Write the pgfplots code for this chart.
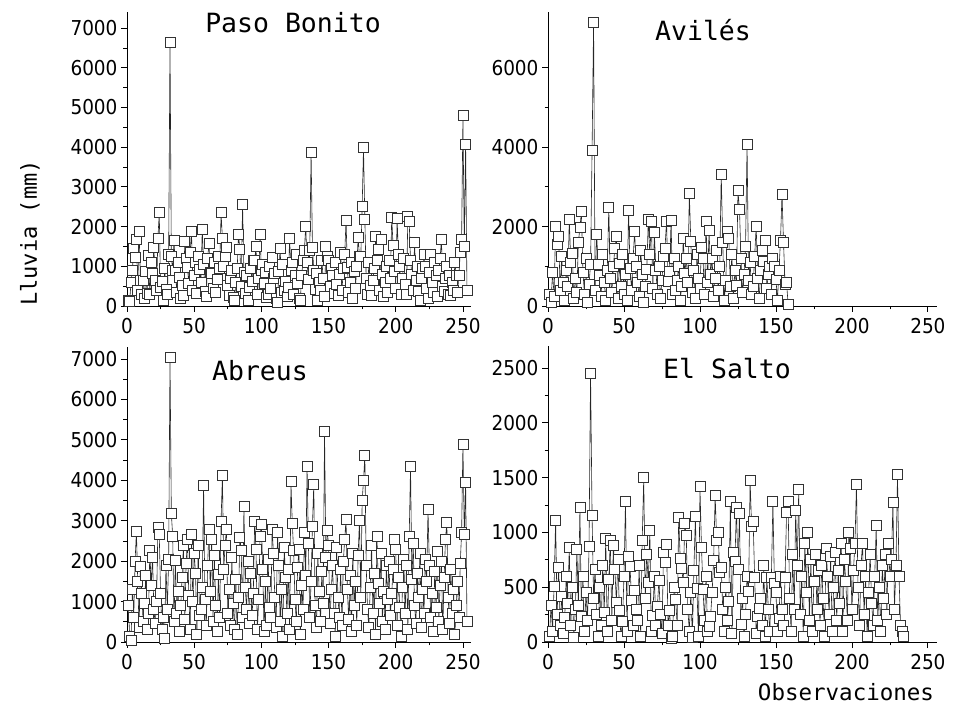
\documentclass[border=0pt]{standalone}
\usepackage{pgfplots}
\pgfplotsset{compat=1.18}
\usepackage{pgfplotstable}
\usepackage{fontspec}
\newfontfamily\tickfont{DejaVu Sans Condensed}
\newfontfamily\monofont{DejaVu Sans Mono}

\pgfplotstableread[row sep=\\]{y\\150\\120\\600\\900\\1450\\1225\\1680\\400\\1890\\650\\300\\640\\200\\880\\320\\1285\\290\\1100\\820\\1480\\640\\385\\1705\\2350\\480\\610\\150\\950\\420\\290\\1300\\6650\\1240\\890\\1660\\905\\350\\1100\\720\\180\\520\\265\\1620\\1200\\980\\560\\1350\\1890\\400\\760\\1100\\315\\1260\\925\\600\\1940\\1050\\380\\240\\1200\\1580\\850\\825\\450\\1100\\330\\680\\1250\\940\\2350\\1705\\1008\\1260\\1480\\520\\260\\700\\900\\205\\150\\600\\940\\1800\\1430\\500\\2550\\850\\320\\770\\150\\480\\940\\620\\1150\\1140\\1510\\280\\700\\1800\\900\\1060\\560\\855\\210\\295\\1000\\450\\1225\\700\\810\\180\\95\\870\\1450\\350\\1050\\400\\620\\230\\480\\1700\\900\\1100\\300\\780\\1300\\560\\200\\150\\770\\1150\\1400\\2015\\1100\\660\\1400\\3860\\1480\\900\\430\\810\\130\\600\\390\\1150\\700\\250\\1495\\1260\\1140\\500\\940\\760\\320\\1100\\550\\255\\800\\1350\\400\\940\\1290\\2160\\975\\350\\600\\1100\\200\\865\\450\\1000\\1730\\1240\\1260\\2500\\3990\\2185\\700\\300\\1100\\520\\275\\655\\950\\1745\\1140\\1430\\400\\1680\\800\\250\\600\\1000\\330\\1150\\700\\2225\\1535\\865\\450\\2200\\1310\\1000\\300\\700\\1200\\550\\280\\2265\\2125\\1140\\800\\400\\1605\\640\\1000\\360\\150\\700\\950\\1300\\990\\450\\200\\850\\1300\\600\\330\\1100\\780\\250\\900\\1200\\1680\\500\\380\\700\\1000\\300\\780\\275\\600\\400\\1100\\780\\350\\780\\1360\\1670\\4790\\1500\\4070\\400\\}\pb

\pgfplotstableread[row sep=\\]{y\\300\\100\\850\\250\\2015\\1540\\1760\\400\\1260\\600\\150\\900\\500\\2180\\1100\\1330\\200\\700\\350\\1600\\1980\\2380\\850\\300\\1200\\100\\550\\1050\\3910\\7150\\400\\1810\\1060\\780\\250\\1300\\600\\150\\900\\2480\\700\\350\\990\\1450\\1750\\200\\1075\\500\\1300\\300\\800\\150\\2420\\950\\400\\1200\\1870\\990\\600\\250\\1400\\800\\100\\500\\920\\2180\\1300\\2120\\450\\1850\\900\\300\\1000\\200\\650\\1250\\1460\\2140\\610\\880\\2150\\300\\1190\\400\\655\\1000\\150\\500\\1690\\830\\1190\\600\\2840\\1630\\350\\900\\200\\1300\\700\\450\\1480\\1190\\300\\2140\\600\\1900\\805\\1190\\250\\700\\1400\\400\\1000\\3325\\1600\\150\\650\\1880\\1705\\500\\1300\\200\\900\\530\\2900\\2440\\1190\\350\\800\\1510\\4080\\655\\1100\\300\\490\\1250\\2015\\700\\200\\900\\1400\\1115\\1660\\450\\800\\990\\300\\1200\\990\\680\\150\\900\\1660\\2820\\1595\\555\\590\\50\\}\av

\pgfplotstableread[row sep=\\]{y\\900\\150\\40\\1300\\600\\1990\\2730\\1500\\350\\1880\\1200\\500\\950\\1650\\300\\700\\2260\\1400\\2100\\800\\450\\1000\\2840\\2650\\1200\\300\\600\\100\\1900\\800\\2050\\7050\\3180\\2620\\500\\2030\\700\\1250\\250\\900\\1600\\2400\\550\\1950\\2550\\1150\\300\\2670\\1000\\2200\\1700\\200\\2400\\650\\800\\1350\\3870\\1050\\400\\1900\\2790\\1250\\2550\\500\\2150\\900\\250\\1660\\600\\2995\\4130\\1800\\2400\\2790\\700\\1300\\400\\2100\\950\\300\\1550\\200\\1100\\2590\\2260\\600\\3350\\1350\\800\\2000\\450\\1700\\650\\1200\\2980\\2300\\300\\1050\\2600\\2910\\1800\\250\\1500\\400\\2050\\850\\600\\2790\\2200\\1100\\350\\2715\\1900\\500\\1300\\150\\2350\\1600\\700\\1800\\300\\3970\\2930\\2260\\1050\\500\\1850\\2300\\200\\1400\\800\\2700\\1650\\4340\\2450\\600\\1500\\2870\\3910\\900\\350\\2200\\1250\\500\\1750\\950\\5200\\2100\\2750\\2400\\450\\1300\\1900\\700\\150\\2350\\1100\\600\\1800\\400\\2000\\2540\\3040\\1300\\550\\1650\\250\\2200\\900\\1500\\400\\2150\\3010\\1100\\3500\\3990\\4610\\1900\\800\\350\\1350\\2400\\700\\1700\\200\\2610\\1450\\950\\2200\\500\\1250\\300\\1900\\1050\\2000\\650\\1200\\1800\\2550\\2300\\400\\1600\\850\\150\\1350\\2050\\700\\1900\\300\\2600\\4340\\1550\\2440\\900\\450\\1700\\1100\\2200\\350\\1300\\700\\2050\\1500\\3280\\1900\\600\\1200\\250\\1750\\850\\2250\\500\\1400\\2000\\300\\1600\\2540\\2950\\1100\\450\\1800\\700\\1300\\200\\900\\1500\\600\\1950\\2700\\4900\\2650\\3940\\500\\}\ab

\pgfplotstableread[row sep=\\]{y\\50\\338\\100\\505\\1113\\250\\682\\150\\420\\80\\225\\600\\350\\864\\150\\500\\40\\300\\845\\330\\1229\\237\\600\\100\\450\\200\\870\\2452\\1152\\400\\663\\255\\50\\500\\150\\700\\267\\946\\100\\572\\924\\200\\885\\663\\365\\750\\285\\50\\185\\600\\1286\\100\\778\\687\\377\\150\\468\\298\\200\\700\\50\\930\\1500\\400\\803\\541\\1016\\100\\245\\600\\150\\327\\566\\250\\80\\815\\724\\894\\150\\286\\30\\55\\500\\390\\155\\1138\\764\\672\\541\\1083\\976\\300\\100\\450\\40\\657\\1143\\490\\55\\1417\\864\\481\\200\\600\\100\\140\\237\\450\\748\\1340\\930\\997\\636\\682\\300\\100\\500\\200\\368\\1280\\79\\818\\733\\1229\\663\\1174\\164\\400\\50\\250\\600\\459\\1478\\1052\\1098\\590\\79\\237\\310\\398\\150\\700\\50\\590\\300\\100\\590\\1280\\536\\450\\100\\216\\600\\298\\150\\590\\1180\\1280\\400\\100\\800\\300\\1200\\700\\1390\\250\\600\\50\\900\\450\\1000\\200\\750\\100\\550\\800\\300\\650\\150\\700\\400\\50\\850\\600\\250\\780\\100\\500\\820\\200\\650\\350\\900\\100\\750\\550\\200\\1000\\850\\300\\650\\900\\1440\\500\\150\\700\\900\\250\\600\\50\\450\\800\\350\\150\\600\\1060\\200\\500\\100\\700\\400\\800\\250\\900\\600\\750\\1270\\300\\700\\1530\\600\\150\\100\\50\\}\es

\pgfplotsset{
  panel/.style={
    scale only axis, axis lines=left,
    axis line style={-, black, line width=0.8pt},
    xmin=0, xmax=256, ymin=0,
    tick align=outside, major tick length=6pt, minor tick length=3.5pt,
    xtick={0,50,...,250}, minor x tick num=1, minor y tick num=1,
    tick style={black, line width=0.8pt},
    ticklabel style={font=\fontsize{20.5}{20.5}\selectfont\tickfont},
    xticklabel style={yshift=-3pt},
    /pgf/number format/assume math mode=true,
    /pgf/number format/1000 sep={},
    scaled ticks=false, clip=false,
    anchor=south west,
  },
  ser/.style={draw=black!85, line width=0.6pt, mark=square*, mark size=5pt,
    mark options={fill=white, draw=black!80, line width=0.8pt, solid}},
}

\begin{document}
\begin{tikzpicture}[x=1pt,y=1pt]
\path[use as bounding box] (0,0) rectangle (953,704);

\begin{axis}[panel, at={(127pt,398pt)}, width=344pt, height=293.8pt, ymax=7400,
  ytick={0,1000,...,7000}]
\addplot[ser] table[x expr=\coordindex+1, y=y] {\pb};
\end{axis}

\begin{axis}[panel, at={(548pt,398pt)}, width=389pt, height=293.8pt, ymax=7400,
  ytick={0,2000,4000,6000}]
\addplot[ser] table[x expr=\coordindex+1, y=y] {\av};
\end{axis}

\begin{axis}[panel, at={(127pt,62pt)}, width=344pt, height=295.1pt, ymax=7300,
  ytick={0,1000,...,7000}]
\addplot[ser] table[x expr=\coordindex+1, y=y] {\ab};
\end{axis}

\begin{axis}[panel, at={(548pt,62pt)}, width=389pt, height=295.9pt, ymax=2700,
  ytick={0,500,...,2500}]
\addplot[ser] table[x expr=\coordindex+1, y=y] {\es};
\end{axis}

\node[font=\fontsize{26.5}{26.5}\selectfont\monofont] at (293,681) {Paso Bonito};
\node[font=\fontsize{26.5}{26.5}\selectfont\monofont] at (703,674) {Avilés};
\node[font=\fontsize{26.5}{26.5}\selectfont\monofont] at (260,333) {Abreus};
\node[font=\fontsize{26.5}{26.5}\selectfont\monofont] at (727,335) {El Salto};
\node[font=\fontsize{22}{22}\selectfont\monofont, rotate=90] at (30,471) {Lluvia (mm)};
\node[font=\fontsize{22.5}{22.5}\selectfont\monofont] at (846,12) {Observaciones};
\end{tikzpicture}
\end{document}
